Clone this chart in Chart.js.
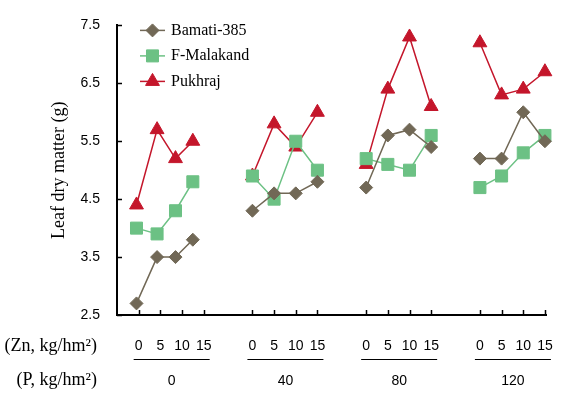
<!DOCTYPE html>
<html><head><meta charset="utf-8">
<script src="https://cdn.jsdelivr.net/npm/chart.js@4.4.1/dist/chart.umd.min.js"></script>
<style>html,body{margin:0;padding:0;background:#fff;}#wrap{width:571px;height:394px;}</style>
</head><body><div id="wrap"><canvas id="c" width="571" height="394"></canvas></div>
<script>
// ---- data ----
const pLevels = ['0', '40', '80', '120'];
const znLevels = ['0', '5', '10', '15'];
const seriesNames = ['Bamati-385', 'F-Malakand', 'Pukhraj'];
const bamati   = [2.7, 3.5, 3.5, 3.8,  4.3, 4.6, 4.6, 4.8,  4.7, 5.6, 5.7, 5.4,  5.2, 5.2, 6.0, 5.5];
const malakand = [4.0, 3.9, 4.3, 4.8,  4.9, 4.5, 5.5, 5.0,  5.2, 5.1, 5.0, 5.6,  4.7, 4.9, 5.3, 5.6];
const pukhraj  = [4.4, 5.7, 5.2, 5.5,  4.9, 5.8, 5.4, 6.0,  5.1, 6.4, 7.3, 6.1,  7.2, 6.3, 6.4, 6.7];
const yTicks = [2.5, 3.5, 4.5, 5.5, 6.5, 7.5];
// category positions along the x axis (treatment slots), tick slots and plotted slots
const tickSlots  = [1, 2, 3, 4,  6.25, 7.25, 8.25, 9.25,  11.5, 12.5, 13.5, 14.5,  16.75, 17.75, 18.75, 19.75];
const pointSlots = [0.9, 1.85, 2.7, 3.5,  6.25, 7.25, 8.25, 9.25,  11.5, 12.5, 13.5, 14.5,  16.75, 17.75, 18.75, 19.75];

const colors = ['#716856', '#6cc184', '#c4162b'];
const styles = ['rectRot', 'rect', 'triangle'];
const radii = [6.5, 8.5, 8];

function buildData(vals) {
  const out = [];
  vals.forEach((v, i) => {
    if (i > 0 && i % 4 === 0) out.push({x: (pointSlots[i - 1] + pointSlots[i]) / 2, y: null});
    out.push({x: pointSlots[i], y: v});
  });
  return out;
}
const allVals = [bamati, malakand, pukhraj];

const datasets = allVals.map((vals, k) => ({
  label: seriesNames[k],
  data: buildData(vals),
  borderColor: colors[k],
  backgroundColor: colors[k],
  borderWidth: 1.5,
  pointStyle: styles[k],
  pointRadius: radii[k],
  pointHoverRadius: radii[k],
  pointBorderWidth: 1,
  pointBackgroundColor: colors[k],
  pointBorderColor: colors[k],
  spanGaps: false,
  tension: 0,
  clip: false
}));

const serif = "'Liberation Serif', 'Times New Roman', serif";
const sans = "'Liberation Sans', Arial, sans-serif";

const decor = {
  id: 'decor',
  beforeDatasetsDraw(chart) {
    const {ctx, scales: {x, y}, chartArea} = chart;
    ctx.save();
    ctx.strokeStyle = '#000';
    ctx.lineWidth = 1.5;
    tickSlots.forEach(t => {
      const px = Math.round(x.getPixelForValue(t)) + 0.5;
      ctx.beginPath(); ctx.moveTo(px, chartArea.bottom); ctx.lineTo(px, chartArea.bottom - 5); ctx.stroke();
    });
    yTicks.forEach(t => {
      const py = Math.round(y.getPixelForValue(t)) + 0.5;
      ctx.beginPath(); ctx.moveTo(chartArea.left, py); ctx.lineTo(chartArea.left + 5, py); ctx.stroke();
    });
    ctx.restore();
  },
  afterDraw(chart) {
    const {ctx, scales: {x}, chartArea} = chart;
    ctx.save();
    ctx.fillStyle = '#000';
    ctx.strokeStyle = '#000';
    ctx.font = '14px ' + sans;
    ctx.textAlign = 'center';
    ctx.textBaseline = 'middle';
    pLevels.forEach((p, g) => {
      znLevels.forEach((z, i) => {
        ctx.fillText(z, x.getPixelForValue(tickSlots[g * 4 + i]), chartArea.bottom + 31);
      });
      const x0 = x.getPixelForValue(tickSlots[g * 4]) - 5;
      const x1 = x.getPixelForValue(tickSlots[g * 4 + 3]) + 6;
      ctx.lineWidth = 1;
      ctx.beginPath(); ctx.moveTo(x0, chartArea.bottom + 44.5); ctx.lineTo(x1, chartArea.bottom + 44.5); ctx.stroke();
      ctx.fillText(p, (x0 + x1) / 2, chartArea.bottom + 66);
    });
    ctx.font = '18px ' + serif;
    ctx.textAlign = 'right';
    ctx.fillText('(Zn, kg/hm\u00B2)', 97, chartArea.bottom + 31);
    ctx.fillText('(P, kg/hm\u00B2)', 97, chartArea.bottom + 65);
    chart.data.datasets.forEach((ds, k) => {
      const ly = chartArea.top + 5 + k * 25.5;
      const lx = chartArea.left + 23;
      ctx.strokeStyle = ds.borderColor;
      ctx.lineWidth = 1.5;
      ctx.beginPath(); ctx.moveTo(lx, ly); ctx.lineTo(lx + 25, ly); ctx.stroke();
      ctx.fillStyle = ds.backgroundColor;
      ctx.strokeStyle = ds.borderColor;
      ctx.lineWidth = 1;
      Chart.helpers.drawPoint(ctx, {pointStyle: ds.pointStyle, radius: ds.pointRadius, rotation: 0, borderWidth: 1}, lx + 12.5, ly);
      ctx.fillStyle = '#000';
      ctx.font = '16px ' + serif;
      ctx.textAlign = 'left';
      ctx.fillText(ds.label, lx + 31, ly);
    });
    ctx.restore();
  }
};

new Chart(document.getElementById('c'), {
  type: 'line',
  data: {datasets},
  options: {
    responsive: false,
    animation: false,
    layout: {padding: {top: 22, right: 25, left: 0, bottom: 0}},
    plugins: {legend: {display: false}, tooltip: {enabled: false}},
    scales: {
      x: {
        type: 'linear', min: 0, max: 19.8,
        ticks: {display: false},
        grid: {display: false, drawTicks: false},
        border: {display: true, color: '#000', width: 2},
        afterFit(s) { s.height = 79; }
      },
      y: {
        min: 2.5, max: 7.5,
        afterBuildTicks(s) { s.ticks = yTicks.map(v => ({value: v})); },
        ticks: {color: '#000', font: {family: sans, size: 14}, padding: 17,
                callback: v => v.toFixed(1)},
        grid: {display: false, drawTicks: false},
        border: {display: true, color: '#000', width: 2},
        title: {display: true, text: 'Leaf dry matter (g)', color: '#000',
                font: {family: serif, size: 18}, padding: {top: 48, bottom: 0}},
        afterFit(s) { s.width = 117; }
      }
    }
  },
  plugins: [decor]
});
</script></body></html>
